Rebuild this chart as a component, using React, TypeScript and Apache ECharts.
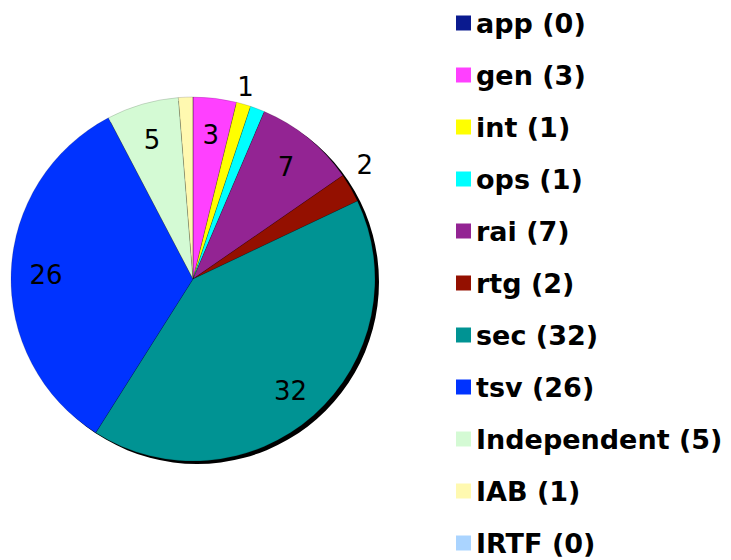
import React, { useEffect, useRef } from "react";
import * as echarts from "echarts";

const categories = ["app", "gen", "int", "ops", "rai", "rtg", "sec", "tsv", "Independent", "IAB", "IRTF"];
const values = [0, 3, 1, 1, 7, 2, 32, 26, 5, 1, 0];
const colors = ["#0A1A8F", "#FF40FF", "#FFFF00", "#00FFFF", "#932493", "#941000", "#009393", "#0033FF", "#D4FAD4", "#FFF9B0", "#AAD4FF"];
const innerLabeled = ["gen", "rai", "sec", "tsv", "Independent"];
const outerLabeledA = ["int"];
const outerLabeledB = ["rtg"];

export default function App() {
  const ref = useRef<HTMLDivElement>(null);
  useEffect(() => {
    document.body.style.margin = "0";
    const chart = echarts.init(ref.current!, null, { renderer: "svg" });
    const center = [193, 279];
    const R = 182;
    const mainData = categories.map((c, i) => ({ name: c, value: values[i], itemStyle: { color: colors[i] } }));
    const labelData = (list: string[]) =>
      categories.map((c, i) => ({
        name: c,
        value: values[i],
        label: { show: list.includes(c) },
      }));
    const labelStyle = {
      position: "inside" as const,
      formatter: "{c}",
      fontFamily: "DejaVu Sans",
      fontSize: 26,
      color: "#000",
    };
    const overlay = (name: string, c: number[], radius: number[], startAngle: number, list: string[]) => ({
      type: "pie",
      name,
      center: c,
      radius,
      startAngle,
      z: 3,
      silent: true,
      legendHoverLink: false,
      emphasis: { disabled: true },
      itemStyle: { color: "rgba(0,0,0,0)" },
      label: labelStyle,
      labelLine: { show: false },
      data: labelData(list),
    });
    chart.setOption({
      animation: false,
      legend: {
        orient: "vertical",
        left: 456,
        top: 9,
        height: 560,
        padding: 0,
        icon: "rect",
        itemWidth: 15,
        itemHeight: 15,
        itemGap: 24,
        selectedMode: false,
        itemStyle: { borderWidth: 0 },
        data: categories,
        formatter: (name: string) => `${name} (${values[categories.indexOf(name)]})`,
        textStyle: { fontFamily: "DejaVu Sans", fontWeight: "bold", fontSize: 27, lineHeight: 28, color: "#000" },
      },
      series: [
        {
          type: "pie",
          name: "main",
          center,
          radius: [0, R],
          startAngle: 90,
          clockwise: true,
          z: 2,
          silent: true,
          label: { show: false },
          labelLine: { show: false },
          itemStyle: { borderWidth: 0.5, borderColor: "rgba(0,0,0,0.3)" },
          emphasis: { disabled: true },
          data: mainData,
        },
        {
          type: "pie",
          name: "shadow",
          center: [center[0] + 4, center[1] + 3],
          radius: [0, R],
          z: 1,
          silent: true,
          label: { show: false },
          labelLine: { show: false },
          emphasis: { disabled: true },
          legendHoverLink: false,
          itemStyle: { color: "#000" },
          data: [{ name: "__shadow", value: 1 }],
        },
        overlay("innerLabels", [center[0], center[1] + 2], [106, R], 90, innerLabeled),
        overlay("outerLabelsA", [center[0], center[1] + 2], [188, 208], 91, outerLabeledA),
        overlay("outerLabelsB", center, [193, 213], 93.5, outerLabeledB),
      ],
    });
    return () => chart.dispose();
  }, []);
  return <div ref={ref} style={{ width: 731, height: 560 }} />;
}
